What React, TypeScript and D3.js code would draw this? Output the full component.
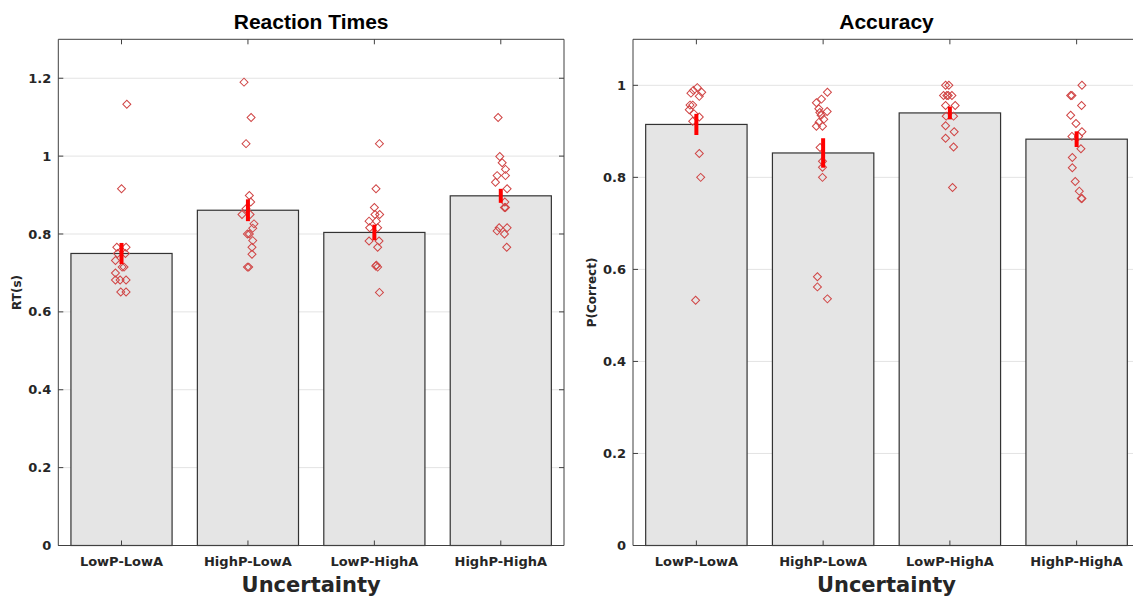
import * as d3 from "d3";

const categories = ["LowP-LowA", "HighP-LowA", "LowP-HighA", "HighP-HighA"];

// reaction times (s)
const rtMeans = [0.75, 0.861, 0.804, 0.898];
const rtErr = [0.027, 0.028, 0.02, 0.018];
const rtPoints = [
  [1.133, 0.916, 0.766, 0.766, 0.75, 0.75, 0.732, 0.715, 0.715, 0.7, 0.682, 0.682, 0.682, 0.651, 0.651],
  [1.19, 1.099, 1.032, 0.899, 0.882, 0.865, 0.85, 0.85, 0.826, 0.815, 0.8, 0.8, 0.783, 0.766, 0.748, 0.715, 0.715],
  [1.032, 0.916, 0.868, 0.85, 0.85, 0.833, 0.833, 0.816, 0.816, 0.782, 0.782, 0.766, 0.72, 0.715, 0.718, 0.65],
  [1.099, 0.999, 0.983, 0.966, 0.95, 0.95, 0.933, 0.916, 0.882, 0.868, 0.868, 0.816, 0.816, 0.808, 0.8, 0.766],
];
const rtJitter = [
  [0.042, 0, -0.037, 0.036, -0.032, 0.031, -0.048, 0.005, 0.02, -0.048, -0.048, -0.011, 0.036, -0.006, 0.036],
  [-0.031, 0.025, -0.015, 0.011, 0.022, -0.015, -0.047, 0.017, 0.048, 0.038, -0.004, 0.011, 0.038, 0.032, 0.032, -0.004, 0.006],
  [0.04, 0.013, 0, 0.042, 0.005, -0.042, 0.016, -0.037, 0.026, -0.042, 0.037, 0.026, 0.016, 0.026, 0.011, 0.04],
  [-0.021, -0.008, 0.011, 0.037, -0.029, 0.037, -0.042, 0.05, 0.032, 0.029, 0.037, -0.013, 0.05, -0.029, 0.029, 0.047],
];

// accuracy
const accMeans = [0.915, 0.853, 0.94, 0.883];
const accErr = [0.023, 0.032, 0.014, 0.017];
const accPoints = [
  [0.995, 0.989, 0.985, 0.983, 0.976, 0.957, 0.957, 0.947, 0.938, 0.931, 0.922, 0.852, 0.8, 0.533],
  [0.985, 0.97, 0.962, 0.949, 0.941, 0.943, 0.935, 0.926, 0.92, 0.911, 0.911, 0.865, 0.835, 0.822, 0.8, 0.584, 0.562, 0.536],
  [1.0, 1.0, 0.978, 0.978, 0.978, 0.978, 0.956, 0.956, 0.933, 0.933, 0.912, 0.899, 0.885, 0.866, 0.778],
  [1.0, 0.978, 0.978, 0.956, 0.935, 0.917, 0.899, 0.889, 0.889, 0.862, 0.843, 0.821, 0.791, 0.77, 0.754, 0.754],
];
const accJitter = [
  [0.007, -0.024, 0.042, -0.043, 0.023, -0.05, -0.029, -0.056, -0.019, 0.023, -0.029, 0.023, 0.034, -0.006],
  [0.034, -0.013, -0.053, -0.034, -0.026, 0.032, -0.016, 0.005, -0.032, -0.053, -0.005, -0.024, -0.005, -0.005, -0.005, -0.045, -0.045, 0.034],
  [-0.034, -0.008, -0.05, -0.024, -0.013, 0.016, -0.034, 0.042, -0.029, 0.029, -0.034, 0.034, -0.034, 0.029, 0.021],
  [0.042, -0.047, -0.037, 0.039, -0.047, -0.005, 0.042, -0.037, 0.016, 0.034, -0.034, -0.034, -0.011, 0.021, 0.037, 0.042],
];

const rtTicks = [0, 0.2, 0.4, 0.6, 0.8, 1, 1.2];
const accTicks = [0, 0.2, 0.4, 0.6, 0.8, 1];

const FONT = "'DejaVu Sans', sans-serif";
const TITLE_FONT = "'Liberation Sans', Arial, sans-serif";
const diamond = d3.symbol(d3.symbolSquare, 32)();

function Panel({ left, right, top, bottom, yMax, ticks, means, errs, points, jitter, title, ylabel }) {
  const x = d3.scaleLinear().domain([0.5, 4.5]).range([left, right]);
  const y = d3.scaleLinear().domain([0, yMax]).range([bottom, top]);
  const bw = (x(1.4) - x(0.6));
  const ax = "#404040";
  return (
    <g>
      {ticks.map((t) => (
        <line key={"g" + t} x1={left} x2={right} y1={y(t)} y2={y(t)} stroke="#e3e3e3" strokeWidth={1} />
      ))}
      {means.map((m, i) => (
        <rect key={"b" + i} x={x(i + 1) - bw / 2} y={y(m)} width={bw} height={y(0) - y(m)}
          fill="#e5e5e5" stroke="#333" strokeWidth={1.2} />
      ))}
      {points.map((arr, i) =>
        arr.map((v, j) => (
          <path key={"p" + i + "-" + j} d={diamond}
            transform={`translate(${x(i + 1 + jitter[i][j])},${y(v)}) rotate(45)`}
            fill="none" stroke="#d04545" strokeWidth={1} />
        ))
      )}
      {means.map((m, i) => (
        <line key={"e" + i} x1={x(i + 1)} x2={x(i + 1)} y1={y(m - errs[i])} y2={y(m + errs[i])}
          stroke="#ff0000" strokeWidth={4} />
      ))}
      {/* axes box */}
      <path d={`M${left},${top}H${right}V${bottom}H${left}Z`} fill="none" stroke={ax} strokeWidth={1} />
      {ticks.map((t) => (
        <g key={"t" + t}>
          <line x1={left} x2={left + 5} y1={y(t)} y2={y(t)} stroke={ax} />
          <line x1={right} x2={right - 5} y1={y(t)} y2={y(t)} stroke={ax} />
          <text x={left - 7} y={y(t)} dy="0.35em" textAnchor="end" fontFamily={FONT}
            fontWeight="bold" fontSize={13} fill="#262626">{d3.format("")(t)}</text>
        </g>
      ))}
      {categories.map((c, i) => (
        <g key={"c" + c}>
          <line x1={x(i + 1)} x2={x(i + 1)} y1={bottom} y2={bottom - 5} stroke={ax} />
          <line x1={x(i + 1)} x2={x(i + 1)} y1={top} y2={top + 5} stroke={ax} />
          <text x={x(i + 1)} y={bottom + 20} textAnchor="middle" fontFamily={FONT}
            fontWeight="bold" fontSize={13} fill="#262626">{c}</text>
        </g>
      ))}
      <text x={(left + right) / 2} y={bottom + 46} textAnchor="middle" fontFamily={FONT}
        fontWeight="bold" fontSize={21} fill="#262626">Uncertainty</text>
      <text x={(left + right) / 2} y={29} textAnchor="middle" fontFamily={TITLE_FONT}
        fontWeight="bold" fontSize={21} fill="#000">{title}</text>
      <text transform={`translate(${left - 37},${(top + bottom) / 2}) rotate(-90)`} textAnchor="middle"
        fontFamily={FONT} fontWeight="bold" fontSize={12} fill="#262626">{ylabel}</text>
    </g>
  );
}

export default function App() {
  return (
    <svg width={1133} height={599} style={{ position: "absolute", left: 0, top: 0, background: "#fff" }}>
      <rect width={1133} height={599} fill="#fff" />
      <Panel left={58.3} right={564} top={39.3} bottom={545.5} yMax={1.3} ticks={rtTicks}
        means={rtMeans} errs={rtErr} points={rtPoints} jitter={rtJitter}
        title="Reaction Times" ylabel="RT(s)" />
      <Panel left={633} right={1140} top={39.3} bottom={545.5} yMax={1.1} ticks={accTicks}
        means={accMeans} errs={accErr} points={accPoints} jitter={accJitter}
        title="Accuracy" ylabel="P(Correct)" />
    </svg>
  );
}
